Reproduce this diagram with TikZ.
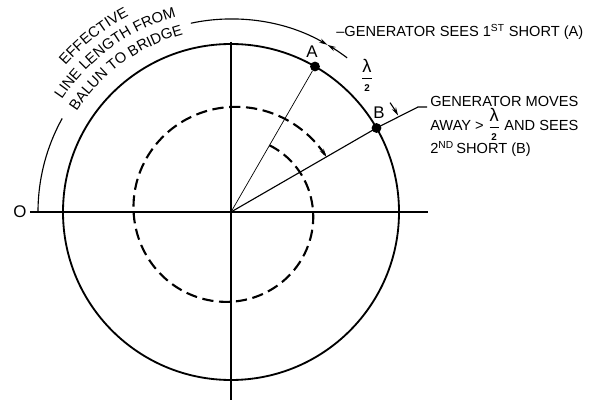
\documentclass[tikz,border=0pt]{standalone}
\usepackage{amsmath, amssymb}
\usepackage{fontspec}
\setmainfont{Liberation Sans}
\usetikzlibrary{arrows.meta, decorations.text}

\newcommand{\arcfont}{\fontsize{10.5}{12}\selectfont}
\newcommand{\halfwave}{$\dfrac{\text{\fontsize{13}{13}\selectfont λ}}{\text{\fontsize{7}{7}\selectfont\bfseries 2}}$}

\begin{document}
\begin{tikzpicture}[x=0.025cm, y=0.025cm, font=\fontsize{10.4}{12.5}\selectfont,
  dot/.style={circle, fill=black, inner sep=0pt, minimum size=7pt},
  dimtip/.style={-{Stealth[length=6pt, width=3.2pt]}},
  big/.style={font=\fontsize{12}{14}\selectfont}]
  \useasboundingbox (-231,-188) rectangle (366,212);
  \coordinate (ctr) at (0,0);
  % axes and the line circle
  \draw[line width=0.9pt] (-201,0) -- (197,0);
  \draw[line width=0.9pt] (0,170) -- (0,-188);
  \draw[line width=1.3pt] (ctr) circle[radius=168];
  % generator path, one turn and more
  \draw[line width=1.5pt, dash pattern=on 8pt off 4pt, dimtip]
    plot[domain=60:-330, samples=150, smooth] (\x:{77+(60-\x)*0.085});
  \node[dot] (A) at (60:168) {};
  \node[dot] (B) at (30:168) {};
  \draw[line width=0.5pt] (ctr) -- (A);
  \coordinate (bend) at (187,105); \coordinate (lead) at (196,105);
  \draw[line width=0.8pt] (ctr) -- (B.center) -- (bend) -- (lead);
  % dimension arcs
  \draw[line width=0.8pt] (180:193) arc[start angle=180, end angle=151, radius=193];
  \draw[line width=0.8pt, dimtip] (102:193) arc[start angle=102, end angle=60, radius=193];
  \draw[line width=0.8pt, dimtip] (53:193) arc[start angle=53, end angle=60, radius=193];
  \draw[line width=0.8pt, dimtip] (34.5:193) arc[start angle=34.5, end angle=30, radius=193];
  \path[decorate, decoration={text along path, text align=center, text={|\arcfont|EFFECTIVE}}]
    (163:221) arc[start angle=163, end angle=93, radius=221];
  \path[decorate, decoration={text along path, text align=center, text={|\arcfont|LINE LENGTH FROM}}]
    (161:203) arc[start angle=161, end angle=91, radius=203];
  \path[decorate, decoration={text along path, text align=center, text={|\arcfont|BALUN TO BRIDGE}}]
    (161:184) arc[start angle=161, end angle=91, radius=184];
  % labels
  \node[big] (orig) at (-211,0) {O};
  \node[big] (labA) at (81,160) {A};
  \node[big] (labB) at (148,99) {B};
  \node (half) at (136,137) {\halfwave};
  \node[anchor=west, inner sep=0pt] (sees) at (105,180) {--GENERATOR SEES 1\textsuperscript{ST} SHORT (A)};
  \node[anchor=north west, align=left, inner sep=0pt] (moves) at (199,116)
    {GENERATOR MOVES\\AWAY > \halfwave{} AND SEES\\2\textsuperscript{ND}\,SHORT (B)};
\end{tikzpicture}
\end{document}
